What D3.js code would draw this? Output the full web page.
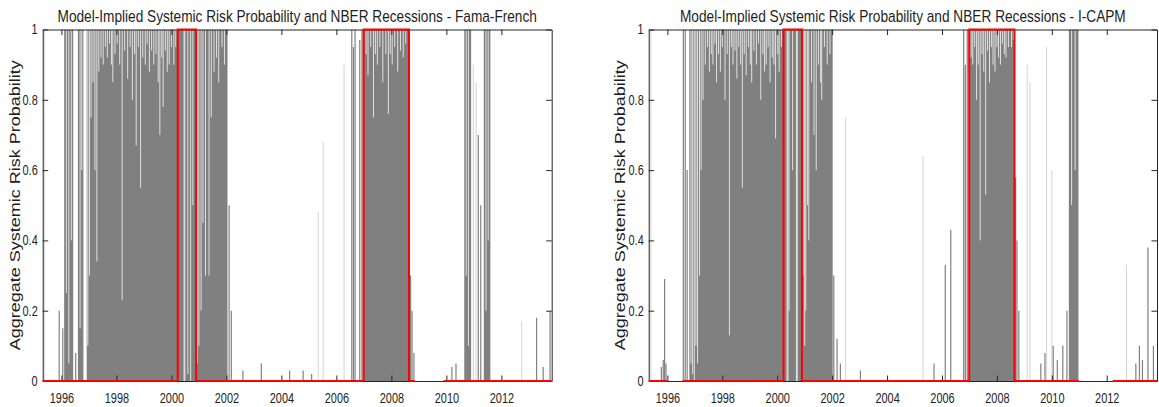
<!DOCTYPE html>
<html>
<head>
<meta charset="utf-8">
<script src="https://cdn.jsdelivr.net/npm/d3@7"></script>
<style>
  body { margin: 0; background: #fff; }
  text { font-family: "Liberation Sans", Arial, sans-serif; fill: #1e1e1e; }
</style>
</head>
<body>
<script>

// ---- data ----
const xDomain = [1995.32, 2013.83];
const xTickYears = [1996, 1998, 2000, 2002, 2004, 2006, 2008, 2010, 2012];
const yTickValues = [0, 0.2, 0.4, 0.6, 0.8, 1];
const yTickLabels = ["0", "0.2", "0.4", "0.6", "0.8", "1"];

const titles = [
  "Model-Implied Systemic Risk Probability and NBER Recessions - Fama-French",
  "Model-Implied Systemic Risk Probability and NBER Recessions - I-CAPM"
];
const yLabel = "Aggregate Systemic Risk Probability";

// NBER recession indicator (start, end)
const recessions = [[2000.23, 2000.90], [2006.99, 2008.64]];

// Fama-French: spans where probability sits at ~1
const ffBlocks = [
  [1996.10, 1996.43], [1996.60, 1996.80], [1996.92, 2002.04],
  [2006.99, 2008.66], [2010.65, 2010.90], [2011.36, 2011.60]
];
// drops inside those spans: [date, lowest value]
const ffDips = [
  [1996.18, 0.25], [1996.27, 0.05], [1996.36, 0.4], [1996.68, 0.15], [1996.74, 0.6],
  [1996.96, 0.1], [1997.02, 0.3], [1997.08, 0.75], [1997.15, 0.85], [1997.22, 0.6],
  [1997.29, 0.34], [1997.36, 0.88], [1997.44, 0.92], [1997.52, 0.9], [1997.60, 0.95],
  [1997.67, 0.92], [1997.75, 0.96], [1997.82, 0.9], [1997.87, 0.85], [1997.95, 0.93],
  [1998.03, 0.96], [1998.12, 0.9], [1998.21, 0.23], [1998.30, 0.94], [1998.41, 0.86],
  [1998.50, 0.95], [1998.58, 0.8], [1998.66, 0.93], [1998.72, 0.67], [1998.80, 0.95],
  [1998.88, 0.55], [1998.96, 0.92], [1999.05, 0.9], [1999.12, 0.96], [1999.20, 0.88],
  [1999.28, 0.94], [1999.36, 0.9], [1999.44, 0.93], [1999.52, 0.85], [1999.58, 0.7],
  [1999.65, 0.92], [1999.70, 0.78], [1999.78, 0.94], [1999.85, 0.88], [1999.92, 0.9],
  [2000.00, 0.95], [2000.09, 0.9], [2000.16, 0.95],
  [2000.46, 0.0], [2000.49, 0.0], [2000.60, 0.02], [2000.70, 0.0], [2000.78, 0.5],
  [2000.95, 0.05], [2001.00, 0.1], [2001.08, 0.2], [2001.15, 0.45], [2001.24, 0.3],
  [2001.37, 0.3], [2001.45, 0.75], [2001.55, 0.88], [2001.64, 0.92], [2001.72, 0.85],
  [2001.84, 0.95], [2001.93, 0.9],
  [2007.08, 0.93], [2007.15, 0.87], [2007.25, 0.95], [2007.35, 0.75], [2007.42, 0.93],
  [2007.49, 0.9], [2007.58, 0.95], [2007.69, 0.85], [2007.80, 0.93], [2007.89, 0.76],
  [2007.96, 0.93], [2008.03, 0.9], [2008.12, 0.95], [2008.23, 0.88], [2008.33, 0.94],
  [2008.43, 0.92], [2008.52, 0.96],
  [2010.72, 0.3], [2010.80, 0.1], [2011.44, 0.2], [2011.52, 0.4]
];
// isolated readings outside the spans: [date, value]
const ffSpikes = [
  [1995.92, 0.2], [1996.05, 0.15], [1996.52, 0.08],
  [2002.10, 0.5], [2002.18, 0.2], [2002.60, 0.03], [2003.27, 0.05], [2004.30, 0.03],
  [2004.79, 0.03], [2005.10, 0.02], [2006.56, 1], [2006.62, 0.95], [2006.68, 1],
  [2006.85, 0.97], [2006.93, 1],
  [2008.70, 0.3], [2008.75, 0.2], [2008.82, 0.08], [2010.20, 0.04], [2010.35, 0.05],
  [2011.16, 0.7], [2011.25, 0.5], [2013.28, 0.18], [2013.52, 0.04], [2013.77, 0.2]
];
const ffFaint = [
  [1995.38, 1], [2005.34, 0.48], [2005.52, 0.68], [2006.28, 0.9],
  [2010.98, 0.9], [2011.08, 0.85], [2012.74, 0.17]
];
const ffRedGaps = [[2008.85, 2009.90]];

// I-CAPM
const icBlocks = [
  [1996.80, 2002.02], [2006.98, 2008.66], [2010.62, 2010.97]
];
const icDips = [
  [1996.86, 0.05], [1996.92, 0.02], [1996.98, 0.0], [1997.04, 0.1], [1997.10, 0.05],
  [1997.17, 0.3], [1997.23, 0.6], [1997.30, 0.8], [1997.38, 0.9], [1997.46, 0.95],
  [1997.53, 0.88], [1997.60, 0.93], [1997.66, 0.9], [1997.73, 0.96], [1997.79, 0.85],
  [1997.86, 0.93], [1997.93, 0.88], [1998.00, 0.95], [1998.10, 0.8], [1998.18, 0.93],
  [1998.26, 0.13], [1998.33, 0.95], [1998.39, 0.9], [1998.46, 0.94], [1998.53, 0.86],
  [1998.60, 0.95], [1998.67, 0.9], [1998.73, 0.55], [1998.80, 0.93], [1998.87, 0.87],
  [1998.95, 0.95], [1999.02, 0.9], [1999.07, 0.85], [1999.15, 0.94], [1999.24, 0.9],
  [1999.32, 0.96], [1999.40, 0.8], [1999.48, 0.93], [1999.54, 0.88], [1999.60, 0.9],
  [1999.67, 0.95], [1999.74, 0.85], [1999.82, 0.92], [1999.88, 0.9], [1999.94, 0.69],
  [2000.02, 0.93], [2000.07, 0.88], [2000.15, 0.95],
  [2000.36, 0.0], [2000.39, 0.0], [2000.43, 0.2], [2000.56, 0.6], [2000.70, 0.0],
  [2000.73, 0.0],
  [2000.94, 0.3], [2001.00, 0.1], [2001.04, 0.2], [2001.10, 0.5], [2001.15, 0.4],
  [2001.25, 0.85], [2001.34, 0.7], [2001.42, 0.6], [2001.50, 0.9], [2001.58, 0.85],
  [2001.62, 0.8], [2001.72, 0.95], [2001.82, 0.9], [2001.92, 0.93],
  [2007.06, 0.92], [2007.12, 0.9], [2007.19, 0.95], [2007.26, 0.8], [2007.32, 0.9],
  [2007.39, 0.4], [2007.46, 0.93], [2007.52, 0.88], [2007.59, 0.53], [2007.66, 0.94],
  [2007.73, 0.85], [2007.80, 0.95], [2007.86, 0.9], [2007.93, 0.88], [2008.00, 0.95],
  [2008.06, 0.92], [2008.13, 0.9], [2008.20, 0.96], [2008.27, 0.93], [2008.33, 0.92],
  [2008.42, 0.95], [2008.53, 0.95], [2008.60, 0.97],
  [2010.72, 0.5], [2010.85, 0.6]
];
const icSpikes = [
  [1995.78, 0.04], [1995.85, 0.06], [1995.90, 0.29], [1995.95, 0.05],
  [1996.58, 1], [1996.65, 1], [1996.72, 0.6],
  [2002.06, 0.3], [2002.18, 0.12], [2002.30, 0.05], [2003.03, 0.03], [2005.71, 0.05],
  [2006.12, 0.33], [2006.32, 0.43], [2006.79, 1], [2006.85, 0.9], [2006.92, 1],
  [2008.68, 0.58], [2008.73, 0.4], [2008.80, 0.2], [2009.60, 0.05], [2009.75, 0.08],
  [2010.05, 0.1], [2010.20, 0.06], [2010.40, 0.1], [2010.55, 0.2],
  [2013.06, 0.05], [2013.19, 0.1], [2013.30, 0.06], [2013.50, 0.38], [2013.70, 0.1]
];
const icFaint = [
  [1995.40, 1], [2002.49, 0.75], [2005.31, 0.64], [2009.10, 0.9], [2009.20, 0.85],
  [2009.81, 0.95], [2010.00, 0.6], [2012.72, 0.33]
];
const icRedGaps = [[1996.00, 1996.55], [2010.98, 2012.22]];

// ---- layout ----
const W = 1159, H = 407;
const plotTop = 29.5, plotBottom = 381;
const gray = "#808080", axisColor = "#262626", red = "#ff0000";

const svg = d3.select("body").append("svg")
  .attr("width", W)
  .attr("height", H);

function squeeze(sel, k) {
  sel.each(function() {
    const w = this.getComputedTextLength();
    d3.select(this).attr("textLength", w * k).attr("lengthAdjust", "spacingAndGlyphs");
  });
}

function drawPanel(p) {
  const x = d3.scaleLinear().domain(xDomain).range([p.left, p.right]);
  const y = d3.scaleLinear().domain([0, 1]).range([plotBottom, plotTop]);

  const g = svg.append("g");

  svg.append("clipPath").attr("id", "clip" + p.id)
    .append("rect")
    .attr("x", p.left).attr("y", plotTop)
    .attr("width", p.right - p.left).attr("height", plotBottom - plotTop);

  const plot = g.append("g").attr("clip-path", "url(#clip" + p.id + ")");

  // probability spans
  plot.selectAll("rect.blk")
    .data(p.blocks)
    .join("rect")
    .attr("class", "blk")
    .attr("x", d => x(d[0]))
    .attr("width", d => x(d[1]) - x(d[0]))
    .attr("y", y(1))
    .attr("height", y(0) - y(1))
    .attr("fill", gray);

  // white notches where the probability falls back
  plot.selectAll("line.dip")
    .data(p.dips)
    .join("line")
    .attr("class", "dip")
    .attr("x1", d => x(d[0])).attr("x2", d => x(d[0]))
    .attr("y1", y(1) - 1).attr("y2", d => y(d[1]))
    .attr("stroke", "#fff")
    .attr("stroke-opacity", 0.85)
    .attr("stroke-width", 0.9);

  plot.selectAll("line.faint")
    .data(p.faint)
    .join("line")
    .attr("class", "faint")
    .attr("x1", d => x(d[0])).attr("x2", d => x(d[0]))
    .attr("y1", y(0)).attr("y2", d => y(d[1]))
    .attr("stroke", gray)
    .attr("stroke-opacity", 0.35)
    .attr("stroke-width", 1);

  plot.selectAll("line.spk")
    .data(p.spikes)
    .join("line")
    .attr("class", "spk")
    .attr("x1", d => x(d[0])).attr("x2", d => x(d[0]))
    .attr("y1", y(0)).attr("y2", d => y(d[1]))
    .attr("stroke", gray)
    .attr("stroke-width", 1.2);

  // axes, MATLAB style: inward ticks on all four sides
  const axB = g.append("g").attr("transform", "translate(0," + plotBottom + ")")
    .call(d3.axisBottom(x).tickValues(xTickYears).tickFormat(d3.format("d"))
      .tickSizeInner(-5.5).tickSizeOuter(0).tickPadding(12.3));
  const axT = g.append("g").attr("transform", "translate(0," + plotTop + ")")
    .call(d3.axisTop(x).tickValues(xTickYears).tickFormat("")
      .tickSizeInner(-5.5).tickSizeOuter(0));
  const axL = g.append("g").attr("transform", "translate(" + p.left + ",0)")
    .call(d3.axisLeft(y).tickValues(yTickValues).tickFormat((d, i) => yTickLabels[i])
      .tickSizeInner(-5.5).tickSizeOuter(0).tickPadding(5));
  const axR = g.append("g").attr("transform", "translate(" + p.right + ",0)")
    .call(d3.axisRight(y).tickValues(yTickValues).tickFormat("")
      .tickSizeInner(-5.5).tickSizeOuter(0));

  [axB, axT, axL, axR].forEach(a => {
    a.selectAll("path.domain").attr("stroke", axisColor).attr("stroke-width", 1);
    a.selectAll(".tick line").attr("stroke", axisColor);
    a.selectAll(".tick text")
      .style("font-family", "'Liberation Sans', Arial, sans-serif")
      .style("font-size", "14px")
      .attr("fill", axisColor);
  });
  squeeze(axB.selectAll(".tick text"), 0.78);
  squeeze(axL.selectAll(".tick text"), 0.78);

  // NBER recession line
  const cuts = recessions.concat(p.redGaps).sort((a, b) => a[0] - b[0]);
  const flat = [];
  let cur = xDomain[0];
  cuts.forEach(c => {
    if (c[0] > cur) flat.push([cur, c[0]]);
    cur = Math.max(cur, c[1]);
  });
  if (cur < xDomain[1]) flat.push([cur, xDomain[1]]);

  const line = d3.line().x(d => x(d[0])).y(d => y(d[1]));
  g.selectAll("path.flat")
    .data(flat)
    .join("path")
    .attr("class", "flat")
    .attr("d", d => line([[d[0], 0], [d[1], 0]]))
    .attr("fill", "none").attr("stroke", red).attr("stroke-width", 2);
  g.selectAll("path.rec")
    .data(recessions)
    .join("path")
    .attr("class", "rec")
    .attr("d", d => line([[d[0], 0], [d[0], 1], [d[1], 1], [d[1], 0]]))
    .attr("fill", "none").attr("stroke", red).attr("stroke-width", 2)
    .attr("stroke-linejoin", "miter");

  // title, squeezed horizontally like the narrow face in the original
  const cx = (p.left + p.right) / 2;
  const t = g.append("text")
    .attr("text-anchor", "middle")
    .style("font-size", "16px")
    .text(p.title);
  const tw = t.node().getComputedTextLength();
  t.attr("transform", "translate(" + cx + ",21.5) scale(" + (p.titleWidth / tw) + ",1)");

  // y label
  g.append("text")
    .attr("transform", "translate(" + p.ylabX + "," + ((plotTop + plotBottom) / 2) + ") rotate(-90)")
    .attr("text-anchor", "middle")
    .attr("textLength", 290)
    .attr("lengthAdjust", "spacingAndGlyphs")
    .style("font-size", "14px")
    .text(yLabel);
}

drawPanel({
  id: "ff", left: 42.7, right: 551.7, title: titles[0], titleWidth: 480, ylabX: 19.5,
  blocks: ffBlocks, dips: ffDips, spikes: ffSpikes, faint: ffFaint, redGaps: ffRedGaps
});
drawPanel({
  id: "ic", left: 648.7, right: 1157, title: titles[1], titleWidth: 446, ylabX: 625,
  blocks: icBlocks, dips: icDips, spikes: icSpikes, faint: icFaint, redGaps: icRedGaps
});

</script>
</body>
</html>
